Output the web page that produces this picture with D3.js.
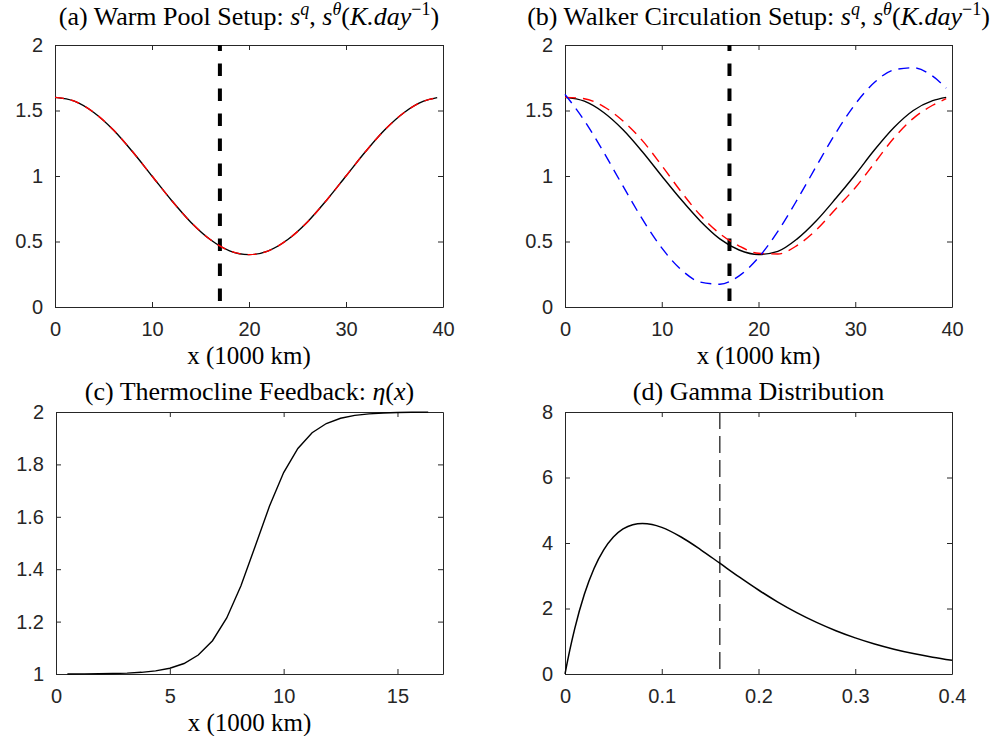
<!DOCTYPE html>
<html>
<head>
<meta charset="utf-8">
<script src="https://cdn.jsdelivr.net/npm/d3@7"></script>
<style>
  body { margin: 0; background: #fff; }
  .tick text { font-family: 'Liberation Sans', Arial, sans-serif; font-size: 20px; fill: #262626; }
  .axis path, .axis line { stroke: #262626; stroke-width: 1; }
  .title, .xlabel { font-family: 'Liberation Serif', 'Times New Roman', serif; fill: #000; }
</style>
</head>
<body>
<script>
const width = 995
const height = 736

// x grid (1000 km) for panels (a) and (b)
const x_pool = [0, 2, 4, 6, 8, 10, 12, 14, 16, 18, 20, 22, 24, 26, 28, 30, 32, 34, 36, 38, 39.4]
// (a) warm pool: s^q (black) and s^theta (red) lie on top of each other
const pool_sq = [1.6, 1.571, 1.485, 1.353, 1.185, 1.0, 0.815, 0.647, 0.515, 0.429, 0.4, 0.429, 0.515, 0.647, 0.815, 1.0, 1.185, 1.353, 1.485, 1.571, 1.598]
const pool_st = [1.6, 1.571, 1.485, 1.353, 1.185, 1.0, 0.815, 0.647, 0.515, 0.429, 0.4, 0.429, 0.515, 0.647, 0.815, 1.0, 1.185, 1.353, 1.485, 1.571, 1.598]
// (b) walker circulation
const walker_black = [1.6, 1.571, 1.485, 1.353, 1.185, 1.0, 0.82, 0.655, 0.52, 0.435, 0.401, 0.425, 0.52, 0.66, 0.83, 1.01, 1.2, 1.37, 1.5, 1.575, 1.6]
const walker_red = [1.6, 1.59, 1.53, 1.42, 1.27, 1.08, 0.88, 0.7, 0.56, 0.465, 0.41, 0.405, 0.47, 0.59, 0.75, 0.91, 1.1, 1.29, 1.44, 1.54, 1.59]
const walker_blue = [1.623, 1.423, 1.181, 0.922, 0.67, 0.451, 0.285, 0.19, 0.174, 0.238, 0.377, 0.577, 0.819, 1.078, 1.33, 1.549, 1.715, 1.81, 1.826, 1.762, 1.671]
const x_split = 17   // thick dashed marker, (a) and (b)

// (c) thermocline feedback eta(x)
const x_eta = [0.5, 1.25, 1.875, 2.5, 3.125, 3.75, 4.375, 5, 5.625, 6.25, 6.875, 7.5, 8.125, 8.75, 9.375, 10, 10.625, 11.25, 11.875, 12.5, 13.125, 13.75, 14.375, 15, 15.625, 16.35]
const eta = [1.0, 1.0005, 1.001, 1.002, 1.0034, 1.0064, 1.0118, 1.022, 1.04, 1.0725, 1.127, 1.214, 1.337, 1.4875, 1.64, 1.769, 1.861, 1.921, 1.956, 1.976, 1.987, 1.993, 1.996, 1.998, 1.999, 1.9995]

// (d) gamma distribution
const x_gamma = [0, 0.005, 0.01, 0.02, 0.03, 0.04, 0.05, 0.06, 0.07, 0.08, 0.09, 0.1, 0.12, 0.14, 0.16, 0.18, 0.2, 0.22, 0.24, 0.26, 0.28, 0.3, 0.32, 0.34, 0.36, 0.38, 0.4]
const gamma_pdf = [0, 0.734, 1.379, 2.434, 3.222, 3.791, 4.182, 4.429, 4.56, 4.598, 4.566, 4.477, 4.183, 3.801, 3.383, 2.964, 2.565, 2.197, 1.867, 1.576, 1.322, 1.103, 0.916, 0.758, 0.625, 0.514, 0.421]
const gamma_mean = 0.16

// tick values
const ticks_x40 = [0, 10, 20, 30, 40]
const ticks_y2 = [0, 0.5, 1, 1.5, 2]
const ticks_x17 = [0, 5, 10, 15]
const ticks_eta = [1, 1.2, 1.4, 1.6, 1.8, 2]
const ticks_xg = [0, 0.1, 0.2, 0.3, 0.4]
const ticks_yg = [0, 2, 4, 6, 8]

const fig = d3.select('body')
    .append('svg')
    .attr('width', width)
    .attr('height', height)

const fmt = d3.format('~g')

const make_panel = function(box, xdom, ydom, xticks, yticks) {
    const x = d3.scaleLinear().domain(xdom).range([box.left, box.right])
    const y = d3.scaleLinear().domain(ydom).range([box.bottom, box.top])
    const g = fig.append('g')

    g.append('g').attr('class', 'axis')
        .attr('transform', `translate(0,${box.bottom})`)
        .call(d3.axisBottom(x).tickValues(xticks).tickFormat(fmt).tickSizeInner(-5).tickSizeOuter(0).tickPadding(15))
    g.append('g').attr('class', 'axis')
        .attr('transform', `translate(0,${box.top})`)
        .call(d3.axisTop(x).tickValues(xticks).tickFormat('').tickSizeInner(-5).tickSizeOuter(0))
    g.append('g').attr('class', 'axis')
        .attr('transform', `translate(${box.left},0)`)
        .call(d3.axisLeft(y).tickValues(yticks).tickFormat(fmt).tickSizeInner(-5).tickSizeOuter(0).tickPadding(12))
    g.append('g').attr('class', 'axis')
        .attr('transform', `translate(${box.right},0)`)
        .call(d3.axisRight(y).tickValues(yticks).tickFormat('').tickSizeInner(-5).tickSizeOuter(0))
    g.selectAll('.tick text').attr('dy', function() {
        return d3.select(this.parentNode.parentNode).attr('transform').startsWith('translate(0') ? '0.71em' : '0.32em'
    })
    return {x, y, g}
}

const draw_line = function(p, xs, ys, color, lw, dash, curve) {
    const line = d3.line()
        .x((d, i) => p.x(xs[i]))
        .y(d => p.y(d))
        .curve(curve || d3.curveMonotoneX)
    p.g.append('path')
        .datum(ys)
        .attr('d', line)
        .attr('fill', 'none')
        .attr('stroke', color)
        .attr('stroke-width', lw)
        .attr('stroke-dasharray', dash || null)
}

const draw_vline = function(p, xv, color, lw, dash, offset) {
    const [y0, y1] = p.y.domain()
    p.g.append('line')
        .attr('x1', p.x(xv)).attr('x2', p.x(xv))
        .attr('y1', p.y(y1)).attr('y2', p.y(y0))
        .attr('stroke', color)
        .attr('stroke-width', lw)
        .attr('stroke-dasharray', dash)
        .attr('stroke-dashoffset', offset || 0)
}

const add_title = function(cx, y, parts) {
    const t = fig.append('text')
        .attr('class', 'title')
        .attr('x', cx).attr('y', y)
        .attr('text-anchor', 'middle')
        .style('font-size', '26px')
    let raised = false
    parts.forEach(p => {
        const ts = t.append('tspan').text(p.t)
        if (p.i) ts.style('font-style', 'italic')
        if (p.sup) {
            ts.style('font-size', '18px')
            if (!raised) { ts.attr('dy', -10); raised = true }
        } else if (raised) {
            ts.attr('dy', 10); raised = false
        }
    })
}

const add_xlabel = function(box) {
    fig.append('text')
        .attr('class', 'xlabel')
        .attr('x', (box.left + box.right) / 2)
        .attr('y', box.bottom + 57)
        .attr('text-anchor', 'middle')
        .style('font-size', '25px')
        .text('x (1000 km)')
}

// panel boxes
const boxA = {left: 55, right: 443, top: 45, bottom: 307}
const boxB = {left: 565, right: 952, top: 45, bottom: 307}
const boxC = {left: 56, right: 443, top: 412, bottom: 674}
const boxD = {left: 565, right: 952, top: 412, bottom: 674}

// (a)
const pa = make_panel(boxA, [0, 40], [0, 2], ticks_x40, ticks_y2)
draw_vline(pa, x_split, '#000', 4, '12.5,12.5', 6.5)
draw_line(pa, x_pool, pool_sq, '#000', 1.4)
draw_line(pa, x_pool, pool_st, '#ff0000', 1.4, '9,7')
add_title((boxA.left + boxA.right) / 2, 25, [
    {t: '(a) Warm Pool Setup:  '}, {t: 's', i: 1}, {t: 'q', i: 1, sup: 1}, {t: ', '},
    {t: 's', i: 1}, {t: 'θ', i: 1, sup: 1}, {t: '('}, {t: 'K.day', i: 1}, {t: '−1', sup: 1}, {t: ')'}
])
add_xlabel(boxA)

// (b)
const pb = make_panel(boxB, [0, 40], [0, 2], ticks_x40, ticks_y2)
draw_vline(pb, x_split, '#000', 4, '12.5,12.5', 6.5)
draw_line(pb, x_pool, walker_black, '#000', 1.4)
draw_line(pb, x_pool, walker_red, '#ff0000', 1.4, '11,7')
draw_line(pb, x_pool, walker_blue, '#0000ff', 1.4, '11,7')
add_title((boxB.left + boxB.right) / 2, 25, [
    {t: '(b) Walker Circulation Setup:  '}, {t: 's', i: 1}, {t: 'q', i: 1, sup: 1}, {t: ', '},
    {t: 's', i: 1}, {t: 'θ', i: 1, sup: 1}, {t: '('}, {t: 'K.day', i: 1}, {t: '−1', sup: 1}, {t: ')'}
])
add_xlabel(boxB)

// (c)
const pc = make_panel(boxC, [0, 17], [1, 2], ticks_x17, ticks_eta)
draw_line(pc, x_eta, eta, '#000', 1.4, null, d3.curveLinear)
add_title((boxC.left + boxC.right) / 2, 400, [
    {t: '(c) Thermocline Feedback:  '}, {t: 'η', i: 1}, {t: '('}, {t: 'x', i: 1}, {t: ')'}
])
add_xlabel(boxC)

// (d)
const pd = make_panel(boxD, [0, 0.4], [0, 8], ticks_xg, ticks_yg)
draw_vline(pd, gamma_mean, '#404040', 1.5, '17,7', 0)
draw_line(pd, x_gamma, gamma_pdf, '#000', 1.5)
add_title((boxD.left + boxD.right) / 2, 400, [{t: '(d) Gamma Distribution'}])
</script>
</body>
</html>
